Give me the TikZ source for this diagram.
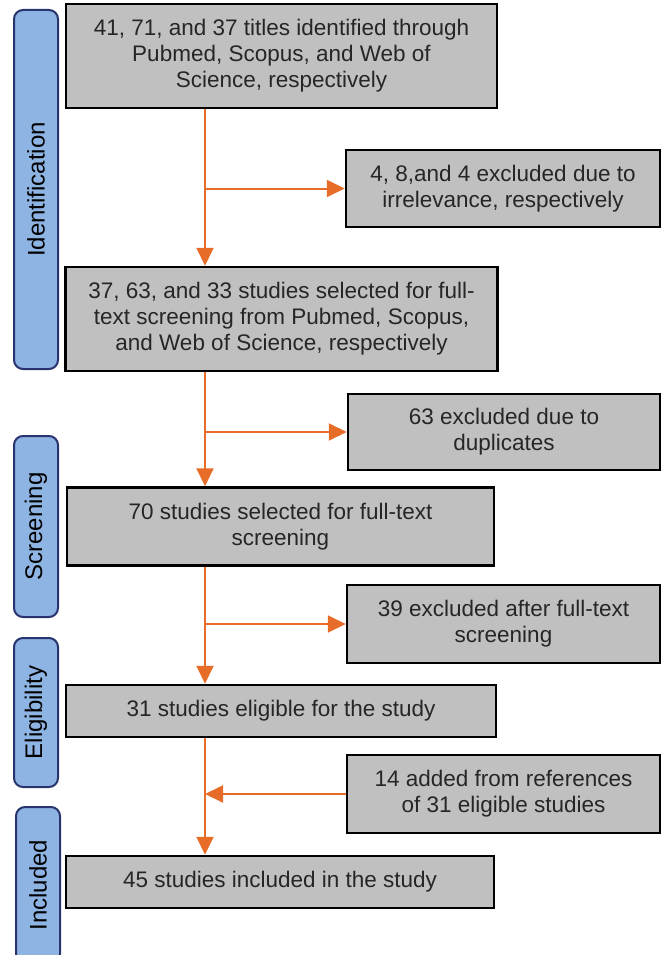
\documentclass[tikz,border=0pt]{standalone}
\usepackage{fontspec}
\setmainfont{Liberation Sans}
\usetikzlibrary{arrows.meta}
\definecolor{boxgray}{RGB}{192,192,192}
\definecolor{flowor}{RGB}{230,108,40}
\definecolor{phaseblue}{RGB}{142,180,227}
\definecolor{phaseline}{RGB}{40,52,110}
\begin{document}
\begin{tikzpicture}[x=1pt, y=-1pt,
  box/.style={draw=black, line width=2.5pt, fill=boxgray, align=center, inner sep=0pt,
    font=\fontsize{22.5}{26}\selectfont, text=black!85},
  phase/.style={draw=phaseline, line width=2pt, fill=phaseblue, rounded corners=9pt,
    rotate=90, minimum height=44pt, inner sep=0pt, font=\fontsize{24}{28}\selectfont},
  flow/.style={draw=flowor, line width=2pt, -{Triangle[length=18pt,width=17pt]}}]
\useasboundingbox (0,0) rectangle (662,955);

% phases on the left
\node[phase, minimum width=359pt] (ident) at (36,189.5) {Identification};
\node[phase, minimum width=181pt] (screen) at (36,526.5) {Screening};
\node[phase, minimum width=149pt] (elig) at (36,712.5) {Eligibility};
\node[phase, minimum width=156pt] (incl) at (38,885) {Included};

% main column
\node[box, minimum width=431pt, minimum height=104pt] (b1) at (281.5,56)
  {41, 71, and 37 titles identified through\\Pubmed, Scopus, and Web of\\Science, respectively};
\node[box, minimum width=432pt, minimum height=104pt] (b2) at (281.5,319)
  {37, 63, and 33 studies selected for full-\\text screening from Pubmed, Scopus,\\and Web of Science, respectively};
\node[box, minimum width=427pt, minimum height=78pt] (b3) at (280.5,526.5)
  {70 studies selected for full-text\\screening};
\node[box, minimum width=430pt, minimum height=52pt] (b4) at (281,711)
  {31 studies eligible for the study};
\node[box, minimum width=428pt, minimum height=52pt] (b5) at (280,882)
  {45 studies included in the study};

% side boxes
\node[box, minimum width=314pt, minimum height=77pt] (e1) at (503,188.5)
  {4, 8,and 4 excluded due to\\irrelevance, respectively};
\node[box, minimum width=312pt, minimum height=76pt] (e2) at (504,432)
  {63 excluded due to\\duplicates};
\node[box, minimum width=313pt, minimum height=78pt] (e3) at (503.5,624)
  {39 excluded after full-text\\screening};
\node[box, minimum width=313pt, minimum height=78pt] (e4) at (503.5,794)
  {14 added from references\\of 31 eligible studies};

\coordinate (spine) at (205,0); % x of the down arrows

% down arrows
\draw[flow] (b1.south -| spine) -- (b2.north -| spine);
\draw[flow] (b2.south -| spine) -- (b3.north -| spine);
\draw[flow] (b3.south -| spine) -- (b4.north -| spine);
\draw[flow] (b4.south -| spine) -- (b5.north -| spine);
% branches
\draw[flow] (b1.south -| spine) |- (e1.west);
\draw[flow] (b2.south -| spine) |- (e2.west);
\draw[flow] (b3.south -| spine) |- (e3.west);
\draw[flow] (e4.west) -- (e4.west -| spine);
\end{tikzpicture}
\end{document}
